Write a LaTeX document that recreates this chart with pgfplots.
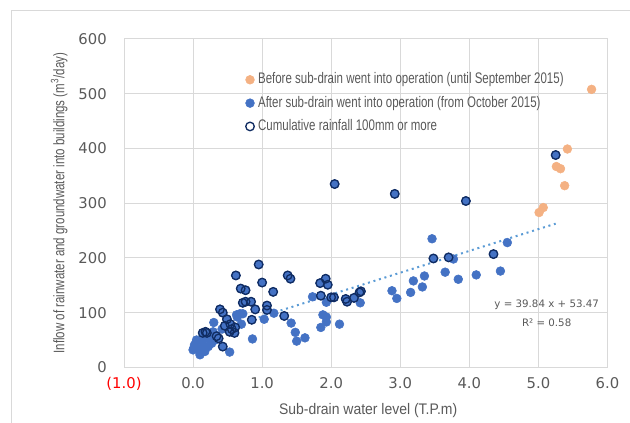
\documentclass[border=0pt]{standalone}
\usepackage{fontspec}
\setmainfont{Liberation Sans}[FakeStretch=0.75]
\newfontfamily\xlabfont{Liberation Sans}[FakeStretch=0.91]
\newfontfamily\tickfont{DejaVu Sans}
\usepackage{pgfplots}
\usepackage{pgfplotstable}
\pgfplotsset{compat=1.18}

\definecolor{gridgray}{HTML}{D9D9D9}
\definecolor{txtgray}{HTML}{595959}
\definecolor{beforeorange}{HTML}{F4B183}
\definecolor{afterblue}{HTML}{4472C4}
\definecolor{rainnavy}{HTML}{102C62}
\definecolor{trendblue}{HTML}{5B9BD5}

\pgfplotsset{dotlegend/.style={legend image code/.code={\draw[##1] plot coordinates {(0cm,0cm)};}}}

% before sub-drain operation (until Sep 2015)
\pgfplotstableread{
x y
5.01 283
5.07 292
5.26 367
5.32 363
5.38 332
5.42 399
5.77 508
}\before

% after operation, ordinary days
\pgfplotstableread{
x y
0.00 32
0.01 35
0.02 41
0.05 47
0.05 50
0.08 32
0.10 23
0.14 38
0.15 50
0.17 29
0.22 38
0.27 44
0.25 50
0.26 56
0.29 65
0.32 50
0.30 82
0.42 70
0.53 28
0.63 96
0.64 92
0.68 98
0.70 79
0.72 98
0.86 52
1.03 88
1.17 99
1.42 81
1.48 64
1.50 48
1.62 54
1.73 129
1.85 73
1.88 96
1.93 92
1.93 83
1.93 119
2.12 79
2.42 118
2.88 140
2.95 126
3.15 137
3.19 158
3.32 147
3.35 167
3.46 235
3.65 174
3.77 198
3.84 161
4.10 169
4.45 176
4.55 228
}\afterplain

% after operation, cumulative rainfall >= 100 mm
\pgfplotstableread{
x y
0.14 63
0.18 65
0.20 63
0.34 57
0.37 53
0.39 106
0.43 100
0.43 38
0.46 76
0.49 88
0.53 65
0.54 79
0.56 70
0.60 63
0.61 73
0.62 168
0.69 144
0.72 118
0.76 141
0.76 120
0.84 120
0.85 87
0.90 106
0.95 188
1.00 155
1.07 113
1.07 105
1.16 138
1.32 94
1.37 168
1.41 162
1.84 154
1.85 131
1.92 162
1.95 151
2.00 128
2.04 128
2.05 335
2.21 125
2.23 120
2.33 127
2.41 137
2.43 139
2.92 317
3.48 199
3.70 201
3.95 304
4.35 207
5.25 388
}\afterrain

\begin{document}
\begin{tikzpicture}
\useasboundingbox (-93pt,-41.7pt) rectangle (379.5pt,275.55pt);
\draw[gridgray, line width=0.75pt] (-84pt,-60pt) -- (-84pt,268pt) -- (400pt,268pt);
\begin{axis}[
  name=ax, at={(0,0)}, anchor=south west,
  scale only axis, width=362.6pt, height=246.3pt,
  xmin=-1, xmax=6, ymin=0, ymax=600,
  xtick={-1,0,1,2,3,4,5,6},
  xticklabels={\textcolor{red}{(1.0)},0.0,1.0,2.0,3.0,4.0,5.0,6.0},
  ytick={0,100,200,300,400,500,600},
  yticklabels={0,100,200,300,400,500,600},
  grid=major,
  grid style={gridgray, line width=0.75pt},
  axis line style={gridgray, line width=0.75pt},
  major tick length=0pt,
  tick label style={font=\tickfont\fontsize{11.1}{13}\selectfont, text=txtgray},
  xticklabel style={inner sep=0pt, anchor=north, yshift=-7.6pt, text height=8.1pt, text depth=0pt},
  yticklabel style={inner sep=0pt, anchor=east, xshift=-12.75pt},
  xlabel={Sub-drain water level (T.P.m)},
  xlabel style={at={(axis description cs:0.505,-0.13)}, anchor=center,
    font=\xlabfont\fontsize{11.5}{13}\selectfont, text=txtgray},
  ylabel={Inflow of rainwater and groundwater into buildings (m\textsuperscript{3}/day)},
  ylabel style={at={(axis description cs:-0.134,0.5)}, anchor=center,
    font=\fontsize{11.5}{13}\selectfont, text=txtgray},
  legend cell align=left,
  legend style={draw=none, fill=none, inner sep=0pt,
    at={(axis description cs:0.251,0.903)}, anchor=north west,
    row sep=4.5pt, column sep=1.75pt,
    font=\fontsize{11.5}{13}\selectfont, text=txtgray,
    nodes={inner sep=1pt, text height=8.6pt, text depth=2.4pt}},
]
\addplot[only marks, mark=*, mark size=3.3pt,
  mark options={fill=beforeorange, draw=beforeorange}, dotlegend]
  table {\before};
\addlegendentry{Before sub-drain went into operation (until September 2015)}

\addplot[only marks, mark=*, mark size=3.3pt,
  mark options={fill=afterblue, draw=afterblue}, dotlegend]
  table {\afterplain};
\addlegendentry{After sub-drain went into operation (from October 2015)}

\addplot[only marks, mark=*, mark size=3.3pt, forget plot,
  mark options={fill=afterblue, draw=afterblue}]
  table {\afterrain};

% linear trend of the after series
\addplot[trendblue, line width=1.5pt, dash pattern=on 1.5pt off 2.8pt, forget plot]
  coordinates {(0.0,53.47) (5.25,262.6)};

\addplot[only marks, mark=o, mark size=3.2pt,
  mark options={draw=rainnavy, line width=1pt, fill=none}, dotlegend]
  table {\afterrain};
\addlegendentry{Cumulative rainfall 100mm or more}

\node[font=\tickfont\fontsize{7.7}{9}\selectfont, text=txtgray] at (axis cs:5.12,114) {y = 39.84 x + 53.47};
\node[font=\tickfont\fontsize{7.7}{9}\selectfont, text=txtgray] at (axis cs:5.12,81) {R² = 0.58};
\end{axis}
\end{tikzpicture}
\end{document}
